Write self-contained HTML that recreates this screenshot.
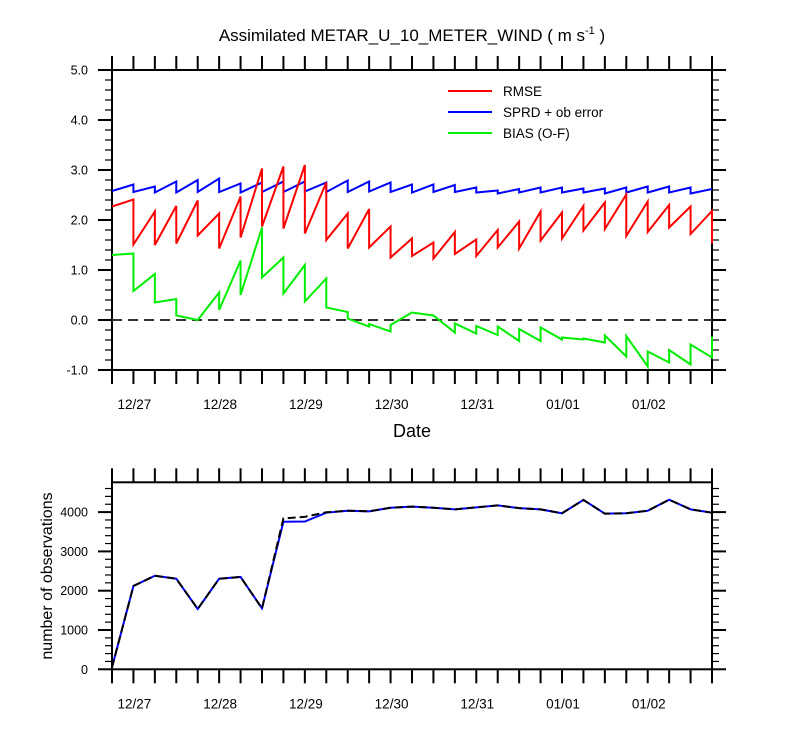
<!DOCTYPE html>
<html><head><meta charset="utf-8"><style>
body{margin:0;background:#fff}
svg{display:block;font-family:"Liberation Sans",sans-serif}
</style></head><body>
<svg id="c" width="800" height="750" viewBox="0 0 800 750" xmlns="http://www.w3.org/2000/svg"></svg>
<script>
const dateLabels=["12/27","12/28","12/29","12/30","12/31","01/01","01/02"];
const yTicksTop=["5.0","4.0","3.0","2.0","1.0","0.0","-1.0"];
const yTicksBot=["0","1000","2000","3000","4000"];
const rmsePrior=[null,2.41,2.17,2.28,2.39,2.13,2.47,3.03,3.07,3.10,2.75,2.13,2.22,1.87,1.63,1.55,1.76,1.61,1.80,1.97,2.17,2.15,2.28,2.35,2.51,2.37,2.30,2.27,2.18];
const rmsePost=[2.27,1.51,1.50,1.53,1.69,1.43,1.65,1.87,1.83,1.73,1.60,1.43,1.45,1.25,1.28,1.23,1.32,1.28,1.45,1.43,1.59,1.63,1.79,1.82,1.68,1.76,1.85,1.72,1.53];
const sprdPrior=[null,2.71,2.67,2.77,2.80,2.83,2.73,2.75,2.77,2.77,2.75,2.79,2.77,2.75,2.71,2.71,2.70,2.65,2.59,2.62,2.65,2.65,2.63,2.63,2.65,2.67,2.67,2.65,2.62];
const sprdPost=[2.58,2.56,2.55,2.55,2.56,2.56,2.55,2.56,2.56,2.57,2.56,2.56,2.57,2.56,2.55,2.56,2.56,2.55,2.53,2.55,2.55,2.55,2.55,2.53,2.55,2.55,2.55,2.53,2.62];
const biasPrior=[null,1.33,0.92,0.42,0.0,0.55,1.19,1.85,1.25,1.10,0.83,0.16,-0.13,-0.23,0.15,0.09,-0.25,-0.27,-0.30,-0.42,-0.42,-0.39,-0.39,-0.45,-0.73,-0.93,-0.85,-0.89,-0.75];
const biasPost=[1.30,0.58,0.35,0.09,0.0,0.20,0.50,0.85,0.53,0.37,0.25,0.03,-0.08,-0.10,0.15,0.09,-0.07,-0.12,-0.13,-0.18,-0.15,-0.35,-0.37,-0.31,-0.32,-0.63,-0.60,-0.49,-0.33];
const obsUsed=[50,2120,2380,2305,1535,2305,2350,1550,3755,3760,3985,4035,4020,4110,4140,4110,4070,4120,4170,4100,4070,3970,4310,3960,3970,4035,4315,4070,3985];
const obsPossible=[50,2120,2380,2305,1535,2305,2350,1550,3840,3880,3995,4035,4020,4110,4140,4110,4070,4120,4170,4100,4070,3970,4310,3960,3970,4035,4315,4070,3985];

const NS="http://www.w3.org/2000/svg";
const svg=document.getElementById('c');
function mk(tag,attrs,parent){const e=document.createElementNS(NS,tag);for(const k in attrs)e.setAttribute(k,attrs[k]);(parent||svg).appendChild(e);return e;}
const X0=112,X1=712,N=28;
const xs=i=>X0+(X1-X0)*i/N;
const yTop=v=>320-50*v;
const yBot=v=>669.3-0.0393*v;

let t=mk('text',{x:412,y:41,'text-anchor':'middle','font-size':17,fill:'#000'});

t.innerHTML='Assimilated METAR_U_10_METER_WIND ( m s<tspan dy="-7" font-size="11">-1</tspan><tspan dy="7"> )</tspan>';

function frame(top,bot,name,yvals,yfun,minStep,majStep,vmin,vmax,labels){
  const g=mk('g',{});
  
  mk('rect',{x:X0,y:top,width:X1-X0,height:bot-top,fill:'none',stroke:'#000','stroke-width':2},g);
  for(let i=0;i<=N;i++){const x=xs(i);
    mk('line',{x1:x,y1:top,x2:x,y2:top-14,stroke:'#000','stroke-width':2},g);
    mk('line',{x1:x,y1:bot,x2:x,y2:bot+14,stroke:'#000','stroke-width':2},g);}
  for(let v=vmin;v<=vmax+1e-6;v+=minStep){const y=yfun(v);
    const maj=Math.abs(v/majStep-Math.round(v/majStep))<1e-6;const L=maj?14:7;
    mk('line',{x1:X0,y1:y,x2:X0-L,y2:y,stroke:'#000','stroke-width':maj?2:1.2},g);
    mk('line',{x1:X1,y1:y,x2:X1+L,y2:y,stroke:'#000','stroke-width':maj?2:1.2},g);}
  labels.forEach((s,k)=>{const e=mk('text',{x:88,y:yfun(yvals[k])+4.5,'text-anchor':'end','font-size':12.5},g);e.textContent=s;});
  dateLabels.forEach((s,k)=>{const e=mk('text',{x:xs(1+4*k)+1,y:bot+39,'text-anchor':'middle','font-size':13.5},g);e.textContent=s;});
}
frame(70,370,'top',[5,4,3,2,1,0,-1],yTop,0.2,1,-1,5,yTicksTop);
frame(482.3,669.3,'bottom',[0,1000,2000,3000,4000],yBot,200,1000,0,4600,yTicksBot);

let z=mk('line',{x1:X0,y1:yTop(0),x2:X1,y2:yTop(0),stroke:'#333','stroke-width':2,'stroke-dasharray':'10,6'});


function saw(prior,post,color,name){
  let d='M'+xs(0)+','+yTop(post[0]);
  for(let i=1;i<=N;i++){d+=' L'+xs(i)+','+yTop(prior[i])+' L'+xs(i)+','+yTop(post[i]);}
  const p=mk('path',{d:d,fill:'none',stroke:color,'stroke-width':2});
  
}
saw(sprdPrior,sprdPost,'#0000ff','sprd-line');
saw(rmsePrior,rmsePost,'#ff0000','rmse-line');
saw(biasPrior,biasPost,'#00ee00','bias-line');

function line(vals,color,dash,name){
  const d=vals.map((v,i)=>(i?'L':'M')+xs(i)+','+yBot(v)).join(' ');
  const p=mk('path',{d:d,fill:'none',stroke:color,'stroke-width':2});
  if(dash)p.setAttribute('stroke-dasharray',dash);
  
}
line(obsUsed,'#0000ff',null,'obs-used-line');
line(obsPossible,'#000','8,4','obs-possible-line');

const leg=[['RMSE','#ff0000',91],['SPRD + ob error','#0000ff',112],['BIAS (O-F)','#00ee00',133]];
leg.forEach(l=>{const g=mk('g',{});
  
  mk('line',{x1:448,y1:l[2],x2:492,y2:l[2],stroke:l[1],'stroke-width':2},g);
  const e=mk('text',{x:503,y:l[2]+5,'font-size':13.5},g);e.textContent=l[0];});

let dl=mk('text',{x:412,y:437,'text-anchor':'middle','font-size':18});
dl.textContent='Date';
let yl=mk('text',{x:0,y:0,'text-anchor':'middle','font-size':16,transform:'translate(52,576) rotate(-90)'});
yl.textContent='number of observations';
</script>
</body></html>
